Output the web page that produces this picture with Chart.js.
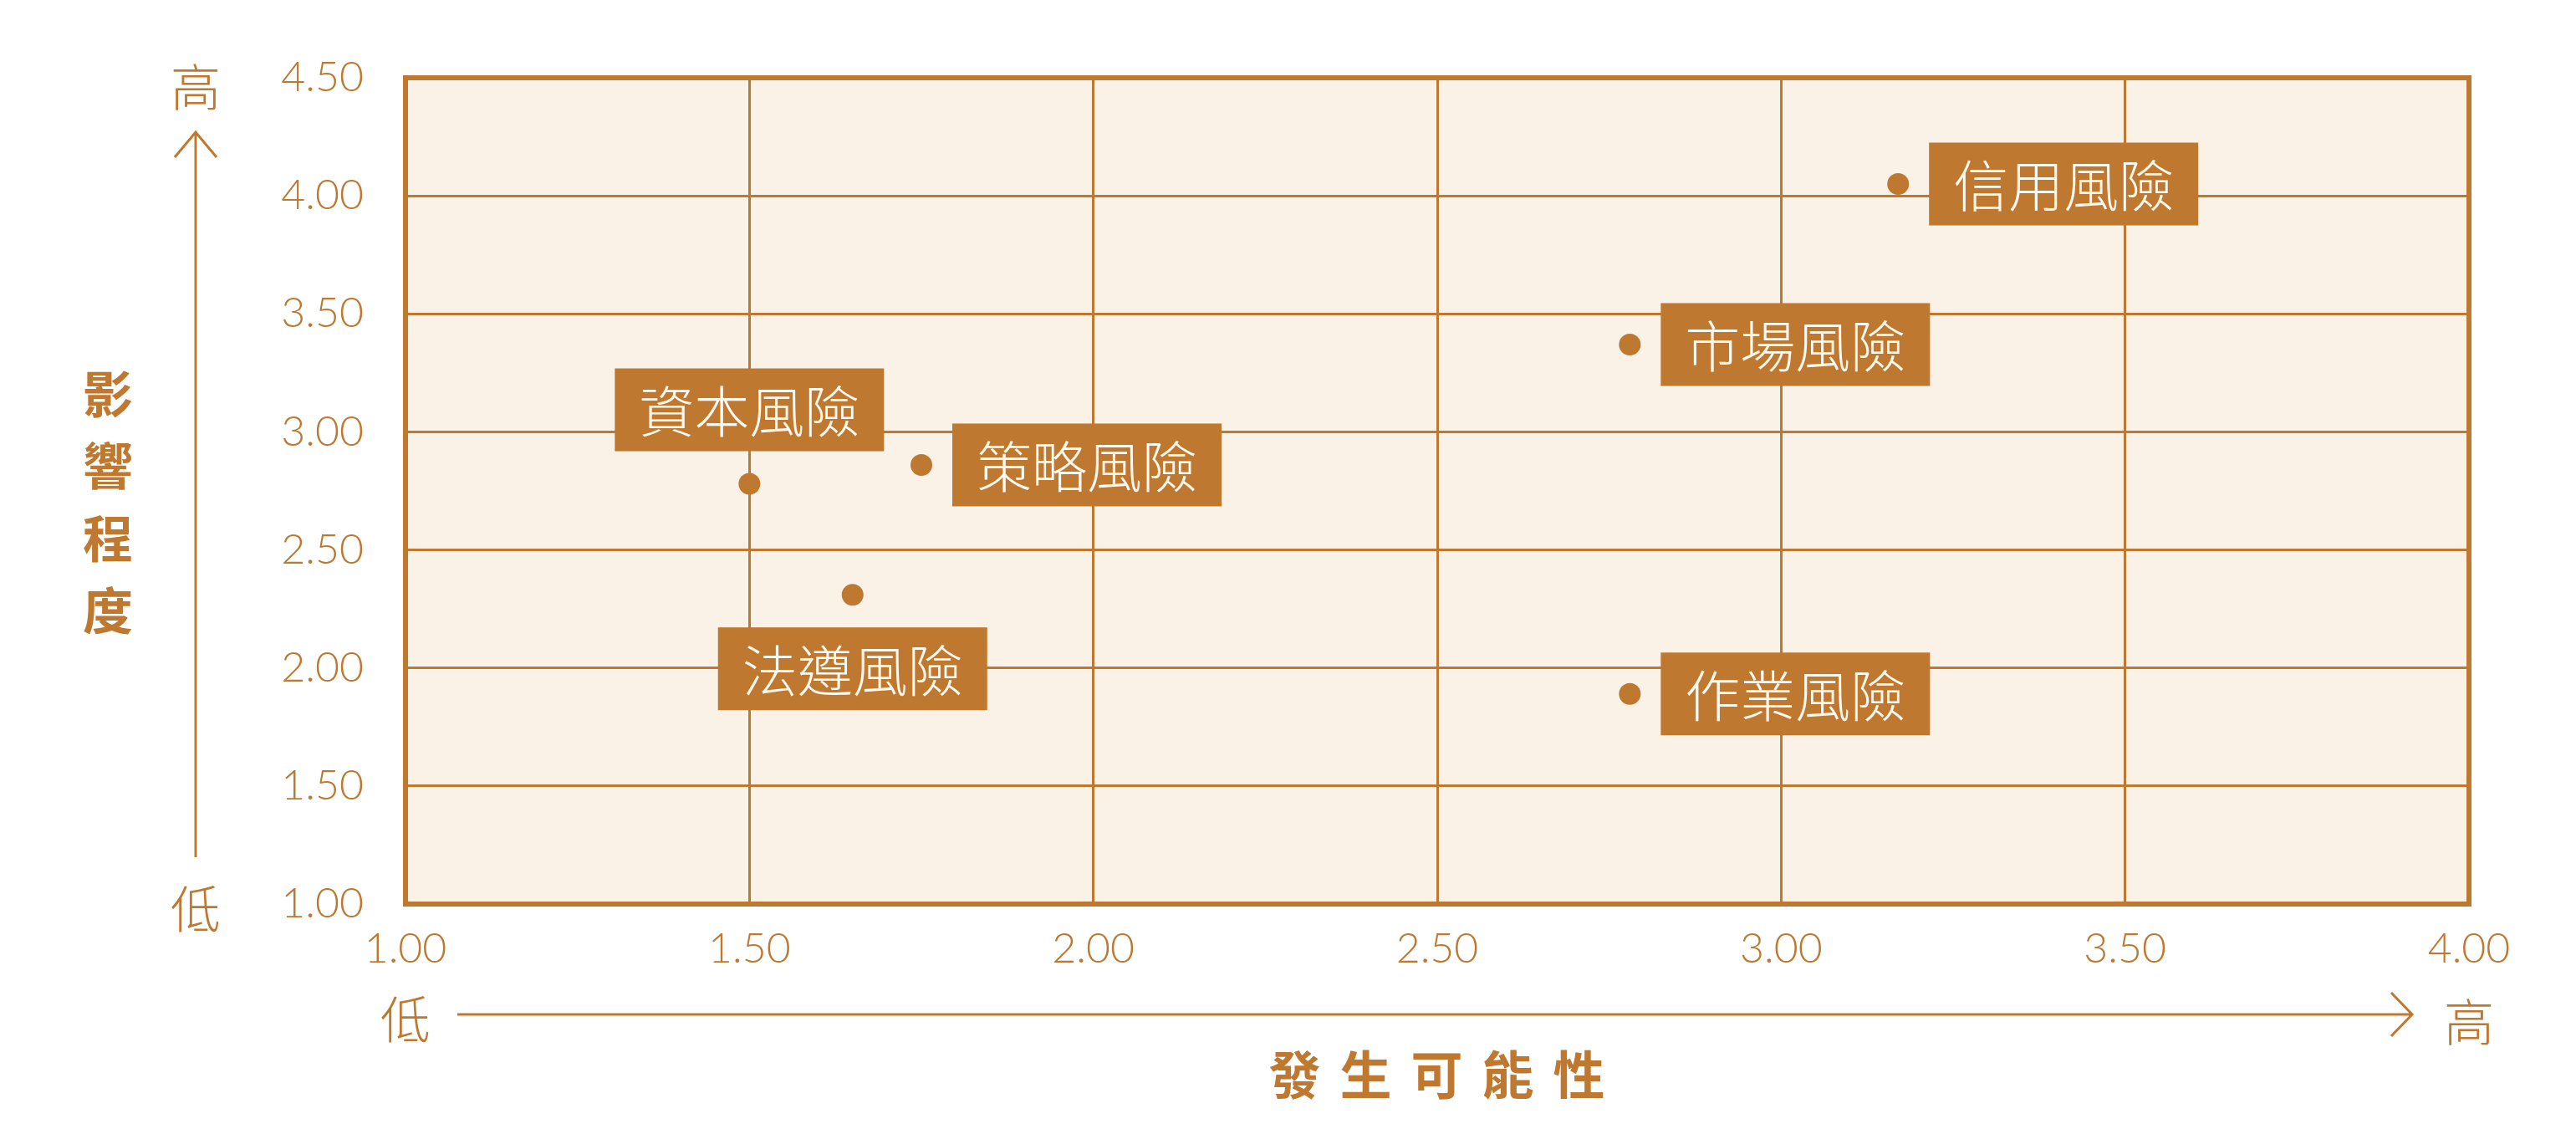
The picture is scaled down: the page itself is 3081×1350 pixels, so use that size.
<!DOCTYPE html>
<html>
<head>
<meta charset="utf-8">
<script src="https://cdn.jsdelivr.net/npm/chart.js@4.4.1/dist/chart.umd.min.js"></script>
<style>
  html, body { margin: 0; padding: 0; background: #ffffff; }
  canvas { display: block; }
</style>
</head>
<body>
<canvas id="riskChart" width="3081" height="1350"></canvas>
<script>
// risk map data
const riskNames = ['信用風險', '市場風險', '作業風險', '資本風險', '策略風險', '法遵風險'];
const likelihood = [3.17, 2.78, 2.78, 1.50, 1.75, 1.65];
const impact = [4.05, 3.37, 1.89, 2.78, 2.86, 2.31];

const xTicks = [1.0, 1.5, 2.0, 2.5, 3.0, 3.5, 4.0];
const xTickLabels = ['1.00', '1.50', '2.00', '2.50', '3.00', '3.50', '4.00'];
const yTicks = [1.0, 1.5, 2.0, 2.5, 3.0, 3.5, 4.0, 4.5];
const yTickLabels = ['1.00', '1.50', '2.00', '2.50', '3.00', '3.50', '4.00', '4.50'];

const xTitle = '發生可能性';
const yTitle = '影響程度';
const highText = '高';
const lowText = '低';

// where each label box sits relative to its dot
const labelSide = ['right', 'right', 'right', 'above', 'right', 'below'];

const BROWN = '#BE782F';
const CREAM = '#FAF1E7';
const LABEL_TEXT = '#FFF8EE';
const CJK = "'Noto Sans CJK TC', 'Noto Sans CJK JP', sans-serif";

// plot background + frame
const framePlugin = {
  id: 'frame',
  beforeDraw(chart) {
    const { ctx, chartArea: a } = chart;
    ctx.save();
    ctx.fillStyle = CREAM;
    ctx.fillRect(a.left, a.top, a.right - a.left, a.bottom - a.top);
    ctx.restore();
  },
  afterDraw(chart) {
    const { ctx, chartArea: a } = chart;
    ctx.save();
    ctx.strokeStyle = BROWN;
    ctx.lineWidth = 6;
    ctx.strokeRect(a.left, a.top, a.right - a.left, a.bottom - a.top);
    ctx.restore();
  }
};

// boxed names next to the dots
const labelPlugin = {
  id: 'riskLabels',
  afterDatasetsDraw(chart) {
    const ctx = chart.ctx;
    const meta = chart.getDatasetMeta(0);
    ctx.save();
    ctx.font = '300 66px ' + CJK;
    ctx.textAlign = 'center';
    ctx.textBaseline = 'middle';
    meta.data.forEach((pt, i) => {
      const name = riskNames[i];
      const w = ctx.measureText(name).width + 58;
      const h = 99;
      let bx, by;
      if (labelSide[i] === 'above') {
        bx = pt.x - w / 2; by = pt.y - 39 - h;
      } else if (labelSide[i] === 'below') {
        bx = pt.x - w / 2; by = pt.y + 39;
      } else {
        bx = pt.x + 37; by = pt.y - h / 2;
      }
      ctx.fillStyle = BROWN;
      ctx.fillRect(bx, by, w, h);
      ctx.fillStyle = LABEL_TEXT;
      ctx.fillText(name, bx + w / 2, by + h / 2 + 2);
    });
    ctx.restore();
  }
};

// axis titles and the low/high arrows
const axisDecor = {
  id: 'axisDecor',
  afterDraw(chart) {
    const { ctx, chartArea: a } = chart;
    ctx.save();
    ctx.strokeStyle = BROWN;
    ctx.fillStyle = BROWN;
    ctx.lineWidth = 3;

    // vertical arrow
    const ax = 234;
    ctx.beginPath();
    ctx.moveTo(ax, a.bottom - 56);
    ctx.lineTo(ax, 158);
    ctx.moveTo(ax - 25, 188);
    ctx.lineTo(ax, 158);
    ctx.lineTo(ax + 25, 188);
    ctx.stroke();

    // horizontal arrow
    const ay = 1213;
    ctx.beginPath();
    ctx.moveTo(547, ay);
    ctx.lineTo(2885, ay);
    ctx.moveTo(2860, ay - 26);
    ctx.lineTo(2885, ay);
    ctx.lineTo(2860, ay + 26);
    ctx.stroke();

    ctx.textAlign = 'center';
    ctx.textBaseline = 'middle';
    ctx.font = '300 60px ' + CJK;
    ctx.fillText(highText, ax, 104);
    ctx.fillText(lowText, ax, 1087);
    ctx.fillText(lowText, a.left, 1219);
    ctx.fillText(highText, a.right, 1222);

    // y title, stacked
    ctx.font = 'bold 60px ' + CJK;
    for (let i = 0; i < yTitle.length; i++) {
      ctx.fillText(yTitle[i], 129, 471 + i * 86.5);
    }

    // x title, spaced
    ctx.font = 'bold 62px ' + CJK;
    ctx.letterSpacing = '23px';
    ctx.fillText(xTitle, (a.left + a.right) / 2 + 11, 1285);
    ctx.restore();
  }
};

const tickFont = { family: "Lato, 'Open Sans', sans-serif", size: 50, weight: 300 };

const ctx = document.getElementById('riskChart').getContext('2d');
new Chart(ctx, {
  type: 'scatter',
  data: {
    datasets: [{
      data: likelihood.map((x, i) => ({ x, y: impact[i] })),
      backgroundColor: BROWN,
      borderWidth: 0,
      pointRadius: 13,
      pointHoverRadius: 13
    }]
  },
  options: {
    responsive: false,
    animation: false,
    devicePixelRatio: 1,
    layout: { padding: { top: 93, right: 128, left: 0, bottom: 0 } },
    plugins: {
      legend: { display: false },
      tooltip: { enabled: false }
    },
    scales: {
      x: {
        type: 'linear',
        min: 1,
        max: 4,
        afterBuildTicks: s => { s.ticks = xTicks.map(v => ({ value: v })); },
        afterFit: s => { s.height = 269; },
        ticks: {
          callback: (v, i) => xTickLabels[i],
          color: BROWN,
          font: tickFont,
          padding: 24,
          maxRotation: 0
        },
        grid: { color: BROWN, lineWidth: 3, drawTicks: false },
        border: { display: false }
      },
      y: {
        type: 'linear',
        min: 1,
        max: 4.5,
        afterBuildTicks: s => { s.ticks = yTicks.map(v => ({ value: v })); },
        afterFit: s => { s.width = 485; },
        ticks: {
          callback: (v, i) => yTickLabels[i],
          color: BROWN,
          font: tickFont,
          padding: 50
        },
        grid: { color: BROWN, lineWidth: 3, drawTicks: false },
        border: { display: false }
      }
    }
  },
  plugins: [framePlugin, labelPlugin, axisDecor]
});
</script>
</body>
</html>
